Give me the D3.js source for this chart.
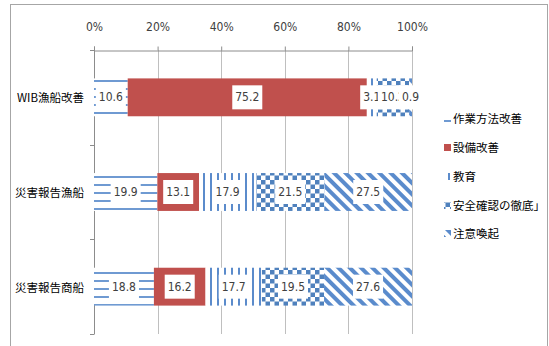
<!DOCTYPE html>
<html><head><meta charset="utf-8">
<script src="https://cdn.jsdelivr.net/npm/d3@7"></script>
<style>body{margin:0;background:#fff;} svg{display:block;}</style>
</head><body>
<svg id="chart" width="549" height="346"></svg>
<script>
const categories = ["WIB漁船改善", "災害報告漁船", "災害報告商船"];
const seriesNames = ["作業方法改善", "設備改善", "教育", "安全確認の徹底」", "注意喚起"];
const sagyouHouhou = [10.6, 19.9, 18.8];
const setsubi = [75.2, 13.1, 16.2];
const kyouiku = [3.1, 17.9, 17.7];
const anzenKakunin = [10.2, 21.5, 19.5];
const chuuiKanki = [0.9, 27.5, 27.6];
const tickValues = [0, 0.2, 0.4, 0.6, 0.8, 1];
const tickLabels = ["0%", "20%", "40%", "60%", "80%", "100%"];

const seriesValues = [sagyouHouhou, setsubi, kyouiku, anzenKakunin, chuuiKanki];
const rows = categories.map((c, i) => {
  const o = {cat: c};
  seriesNames.forEach((s, j) => o[s] = seriesValues[j][i]);
  return o;
});

const svg = d3.select("#chart");
const latin = "'Liberation Sans Narrow','DejaVu Sans Condensed','Noto Sans CJK JP',sans-serif";
const cjk = "'Noto Sans CJK JP',sans-serif";

// patterns
const defs = svg.append("defs");
const fills = ["url(#pHoriz)", "#c0504d", "url(#pVert)", "url(#pCheck)", "url(#pDiag)"];
let p = defs.append("pattern").attr("id","pHoriz").attr("patternUnits","userSpaceOnUse").attr("width",8).attr("height",8);
p.append("rect").attr("width",8).attr("height",8).attr("fill","#fff");
p.append("rect").attr("y",0).attr("width",8).attr("height",2).attr("fill","#6f9ad2");
p = defs.append("pattern").attr("id","pVert").attr("patternUnits","userSpaceOnUse").attr("width",7).attr("height",8);
p.append("rect").attr("width",7).attr("height",8).attr("fill","#fff");
p.append("rect").attr("x",0).attr("width",2).attr("height",8).attr("fill","#5b8bcb");
p = defs.append("pattern").attr("id","pCheck").attr("patternUnits","userSpaceOnUse").attr("width",9).attr("height",9);
p.append("rect").attr("width",9).attr("height",9).attr("fill","#fff");
p.append("rect").attr("width",4.5).attr("height",4.5).attr("fill","#4f81bd");
p.append("rect").attr("x",4.5).attr("y",4.5).attr("width",4.5).attr("height",4.5).attr("fill","#4f81bd");
p = defs.append("pattern").attr("id","pDiag").attr("patternUnits","userSpaceOnUse").attr("width",8).attr("height",8).attr("patternTransform","rotate(-45)");
p.append("rect").attr("width",8).attr("height",8).attr("fill","#fff");
p.append("rect").attr("width",4).attr("height",8).attr("fill","#5a8bcc");

// outer border
svg.append("rect").attr("x",10.5).attr("y",4.5).attr("width",537).attr("height",360)
  .attr("fill","none").attr("stroke","#a6a6a6");

const x = d3.scaleLinear().domain([0,1]).range([94,412]);
const y = d3.scaleBand().domain(categories).range([50,334]).paddingInner(0.6).paddingOuter(0.3);

// gridlines
svg.append("g").selectAll("line").data(tickValues.slice(1)).join("line")
  .attr("x1", d => Math.round(x(d)) + 0.5).attr("x2", d => Math.round(x(d)) + 0.5)
  .attr("y1", 50).attr("y2", 334).attr("stroke","#bfbfbf");

// top axis
const xAxis = d3.axisTop(x).tickValues(tickValues).tickSize(4).tickFormat((d,i) => tickLabels[i]);
const gx = svg.append("g").attr("transform","translate(0,50.5)").call(xAxis);
gx.select(".domain").attr("stroke","#8c8c8c");
gx.selectAll(".tick line").attr("stroke","#8c8c8c");
gx.selectAll(".tick text").attr("font-family", latin).attr("font-size", 12).attr("fill","#404040").attr("y",-20);

// left axis
svg.append("line").attr("x1",94.5).attr("x2",94.5).attr("y1",50).attr("y2",334).attr("stroke","#8c8c8c");
const r0 = y.range()[0], r1 = y.range()[1];
svg.append("g").selectAll("line").data(d3.range(categories.length + 1).map(i => r0 + i*(r1 - r0)/categories.length)).join("line")
  .attr("x1",90).attr("x2",94.5).attr("y1",d=>Math.round(d)+0.5).attr("y2",d=>Math.round(d)+0.5).attr("stroke","#8c8c8c");

svg.append("g").selectAll("text").data(categories).join("text")
  .attr("x", 84).attr("y", d => y(d) + y.bandwidth()/2)
  .attr("text-anchor","end").attr("dominant-baseline","central")
  .attr("font-family", cjk).attr("font-size", 11.5).attr("fill","#000")
  .text(d => d);

// bars
const stack = d3.stack().keys(seriesNames).offset(d3.stackOffsetExpand);
const stacked = stack(rows);
stacked.forEach((s, j) => {
  svg.append("g").selectAll("rect").data(s).join("rect")
    .attr("x", d => x(d[0])).attr("y", d => y(d.data.cat))
    .attr("width", d => x(d[1]) - x(d[0])).attr("height", y.bandwidth())
    .attr("fill", fills[j]);
});

// labels
const lab = svg.append("g");
categories.forEach((c, i) => {
  stacked.forEach((s, j) => {
    const d = s[i];
    const cx = (x(d[0]) + x(d[1]))/2, cy = y(c) + y.bandwidth()/2;
    const g = lab.append("g");
    const r = g.append("rect").attr("fill","#fff");
    const t = g.append("text").attr("x", cx).attr("y", cy).attr("text-anchor","middle")
      .attr("dominant-baseline","central").attr("font-family", latin).attr("font-size", 12)
      .attr("fill","#404040").text(d3.format(".1f")(seriesValues[j][i]));
    const w = t.node().getComputedTextLength();
    r.attr("x", cx - w/2 - 3).attr("y", cy - 12).attr("width", w + 6).attr("height", 24);
  });
});

// legend
const legY = [118, 147, 176, 205, 233];
const leg = svg.append("g");
seriesNames.forEach((s, j) => {
  leg.append("rect").attr("x",444).attr("y",legY[j]-3).attr("width",7).attr("height",7).attr("fill",fills[j]);
  leg.append("text").attr("x",453).attr("y",legY[j]).attr("dominant-baseline","central")
    .attr("font-family", cjk).attr("font-size", 11.5).attr("fill","#000").text(s);
});
</script>
</body></html>
